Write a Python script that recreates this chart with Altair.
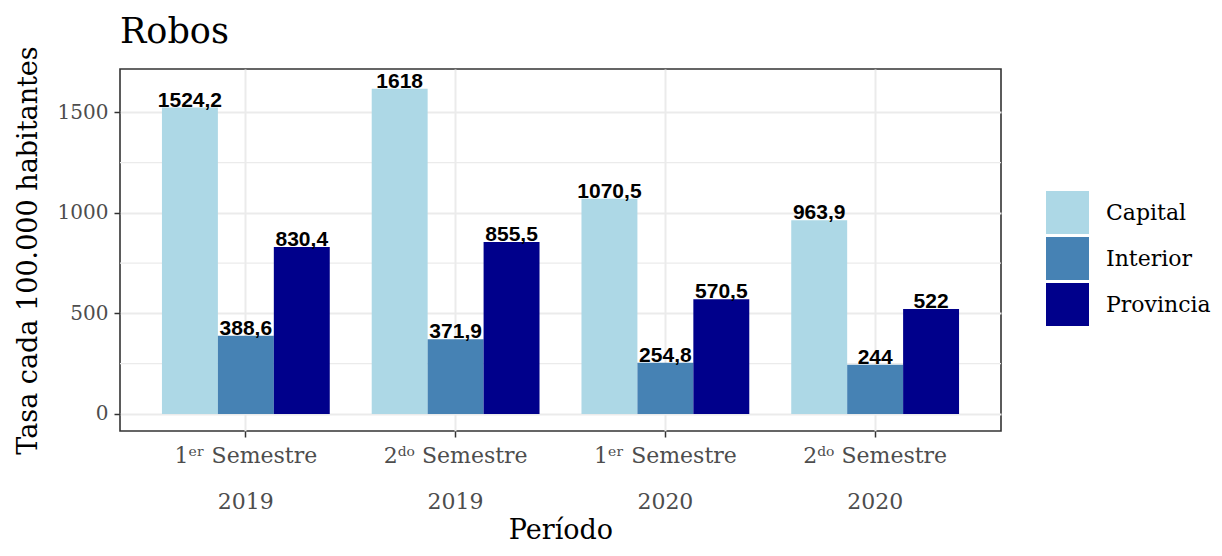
import altair as alt
import pandas as pd

periodos = ["1ᵉʳ Semestre\n2019", "2ᵈᵒ Semestre\n2019", "1ᵉʳ Semestre\n2020", "2ᵈᵒ Semestre\n2020"]
regiones = ["Capital", "Interior", "Provincia"]
capital = [1524.2, 1618, 1070.5, 963.9]
interior = [388.6, 371.9, 254.8, 244]
provincia = [830.4, 855.5, 570.5, 522]
colores = ["#ADD8E6", "#4682B4", "#00008B"]
y_major = [0, 500, 1000, 1500]
y_minor = [250, 750, 1250]

rows = []
for reg, vals in zip(regiones, [capital, interior, provincia]):
    for p, v in zip(periodos, vals):
        rows.append({"periodo": p, "region": reg, "valor": v,
                     "etiqueta": f"{v:g}".replace(".", ",")})
df = pd.DataFrame(rows)
minor_df = pd.DataFrame({"y": y_minor})

SERIF = "DejaVu Serif"
yscale = alt.Scale(domain=[-85, 1716], nice=False, zero=False)
xscale = alt.Scale(paddingInner=0.2, paddingOuter=0.2)
xoff = alt.XOffset("region:N", sort=regiones, scale=alt.Scale(paddingInner=0, paddingOuter=0))

minor = alt.Chart(minor_df).mark_rule(color="#EBEBEB", strokeWidth=1.2).encode(
    y=alt.Y("y:Q", scale=yscale)
)

bars = alt.Chart(df).mark_bar().encode(
    x=alt.X("periodo:N", sort=periodos, scale=xscale,
            axis=alt.Axis(title="Período", labelAngle=0,
                          labelExpr="split(datum.label, '\\n')",
                          labelLineHeight=46, labelPadding=8,
                          labelFont=SERIF, labelFontSize=22, labelColor="#4D4D4D",
                          titleFont=SERIF, titleFontSize=27, titleFontWeight="normal",
                          titleColor="black", titlePadding=5,
                          grid=True, gridColor="#EBEBEB", gridWidth=2,
                          domain=False, ticks=True, tickColor="#333333",
                          tickWidth=1.5, tickSize=6)),
    xOffset=xoff,
    y=alt.Y("valor:Q", scale=yscale,
            axis=alt.Axis(title="Tasa cada 100.000 habitantes", values=y_major,
                          format="d",
                          labelFont=SERIF, labelFontSize=20, labelColor="#4D4D4D",
                          labelPadding=6,
                          titleFont=SERIF, titleFontSize=27, titleFontWeight="normal",
                          titleColor="black", titlePadding=15,
                          grid=True, gridColor="#EBEBEB", gridWidth=2,
                          domain=False, tickColor="#333333", tickWidth=1.5, tickSize=6)),
    color=alt.Color("region:N", sort=regiones,
                    scale=alt.Scale(domain=regiones, range=colores),
                    legend=alt.Legend(title=None, orient="none", legendX=926, legendY=122,
                                      symbolType="square", symbolSize=1849,
                                      symbolStrokeWidth=0, symbolOpacity=1,
                                      rowPadding=3, labelOffset=17,
                                      labelFont=SERIF, labelFontSize=22,
                                      labelColor="black")),
)

labels = alt.Chart(df).mark_text(
    font="Liberation Sans", fontWeight="bold", fontSize=21, color="black",
    baseline="alphabetic", dy=-1
).encode(
    x=alt.X("periodo:N", sort=periodos, scale=xscale),
    xOffset=xoff,
    y=alt.Y("valor:Q", scale=yscale),
    text="etiqueta:N",
)

chart = alt.layer(minor, bars, labels).properties(
    width=881, height=362,
    autosize=alt.AutoSizeParams(type="none"),
    padding={"left": 112, "top": 61, "right": 213, "bottom": 117},
    title=alt.Title("Robos", anchor="start", frame="group", font=SERIF, fontSize=35,
                    fontWeight="normal", color="black", offset=0, baseline="alphabetic",
                    dy=32),
).configure_view(stroke="#333333", strokeWidth=1.6)

chart.save("out.html", embed_options={"renderer": "svg", "actions": False})
